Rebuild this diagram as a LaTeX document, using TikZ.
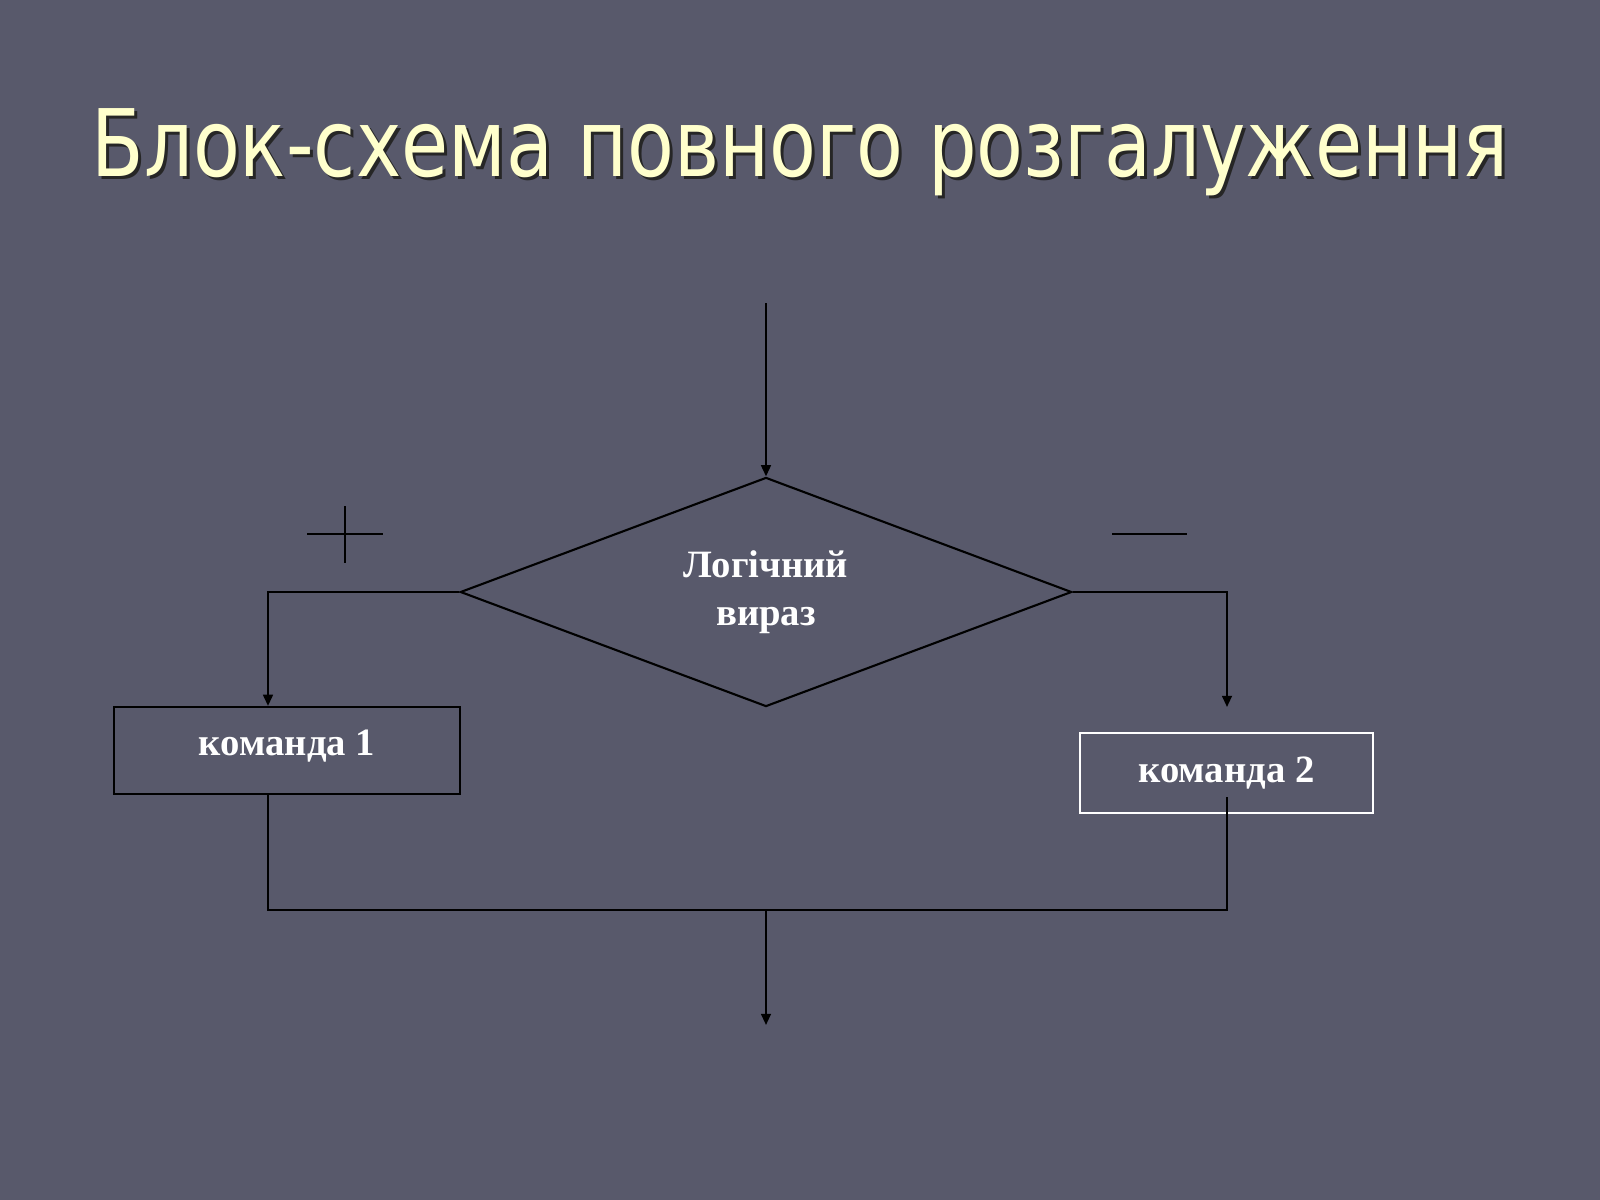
\documentclass[tikz,border=0pt]{standalone}
\usepackage{fontspec}
\setmainfont{Liberation Serif}
\newfontfamily\titlefont{DejaVu Sans}
\usetikzlibrary{shapes.geometric,arrows.meta,calc}
\definecolor{bgcol}{RGB}{88,89,107}
\definecolor{titlecol}{RGB}{255,255,204}
\tikzset{
  flow/.style={line width=0.6pt, draw=black},
  arr/.style={flow, -{Triangle[length=3.2pt,width=2.8pt]}},
  cmdtext/.style={font=\fontsize{11}{13.5}\selectfont\bfseries, text=white},
  box/.style={rectangle, cmdtext, inner sep=0pt, line width=0.6pt},
  decision/.style={diamond, draw=black, line width=0.6pt, inner sep=0pt, cmdtext, align=center,
    minimum width=6.11cm, minimum height=2.29cm, aspect=2.67},
  titletext/.style={font=\titlefont\fontsize{26.5}{30}\selectfont, anchor=base, inner sep=0pt}
}
\newcommand{\mytitle}{\resizebox{14.16cm}{\height}{Блок-схема повного розгалуження}}
\begin{document}
\begin{tikzpicture}[x=0.01cm,y=-0.01cm]
  \fill[bgcol] (0,0) rectangle (1600,1200);
  \useasboundingbox (0,0) rectangle (1600,1200);
  % title
  \node[titletext, text=black!85] (titleshadow) at (803,179) {\mytitle};
  \node[titletext, text=titlecol] (title) at (800,176) {\mytitle};
  % diamond
  \node[decision] (cond) at (766,592) {Логічний\\вираз};
  % boxes
  \node[box, draw=black, minimum width=3.46cm, minimum height=0.87cm, text depth=0.16cm] (c1) at (287,750.5) {команда 1};
  \node[box, draw=white, minimum width=2.93cm, minimum height=0.80cm] (c2) at (1226.5,773) {команда 2};
  % coordinates
  \coordinate (start) at (766,303);
  \coordinate (lturn) at (268,592);
  \coordinate (rturn) at (1227,592);
  \coordinate (rend) at (1227,707);
  \coordinate (c2out) at (1227,797);
  \coordinate (lbot) at (268,910);
  \coordinate (rbot) at (1227,910);
  \coordinate (merge) at (766,910);
  \coordinate (finish) at (766,1025);
  % connectors
  \draw[arr] (start) -- (cond.north);
  \draw[arr] (cond.west) -- (lturn) -- (c1.north -| lturn);
  \draw[arr] (cond.east) -- (rturn) -- (rend);
  \draw[flow] (c1.south -| lturn) -- (lbot) -- (rbot) -- (c2out);
  \draw[arr] (merge) -- (finish);
  % plus and minus signs
  \draw[flow] (307,534) -- (383,534);
  \draw[flow] (345,506) -- (345,563);
  \draw[flow] (1112,534) -- (1187,534);
\end{tikzpicture}
\end{document}
